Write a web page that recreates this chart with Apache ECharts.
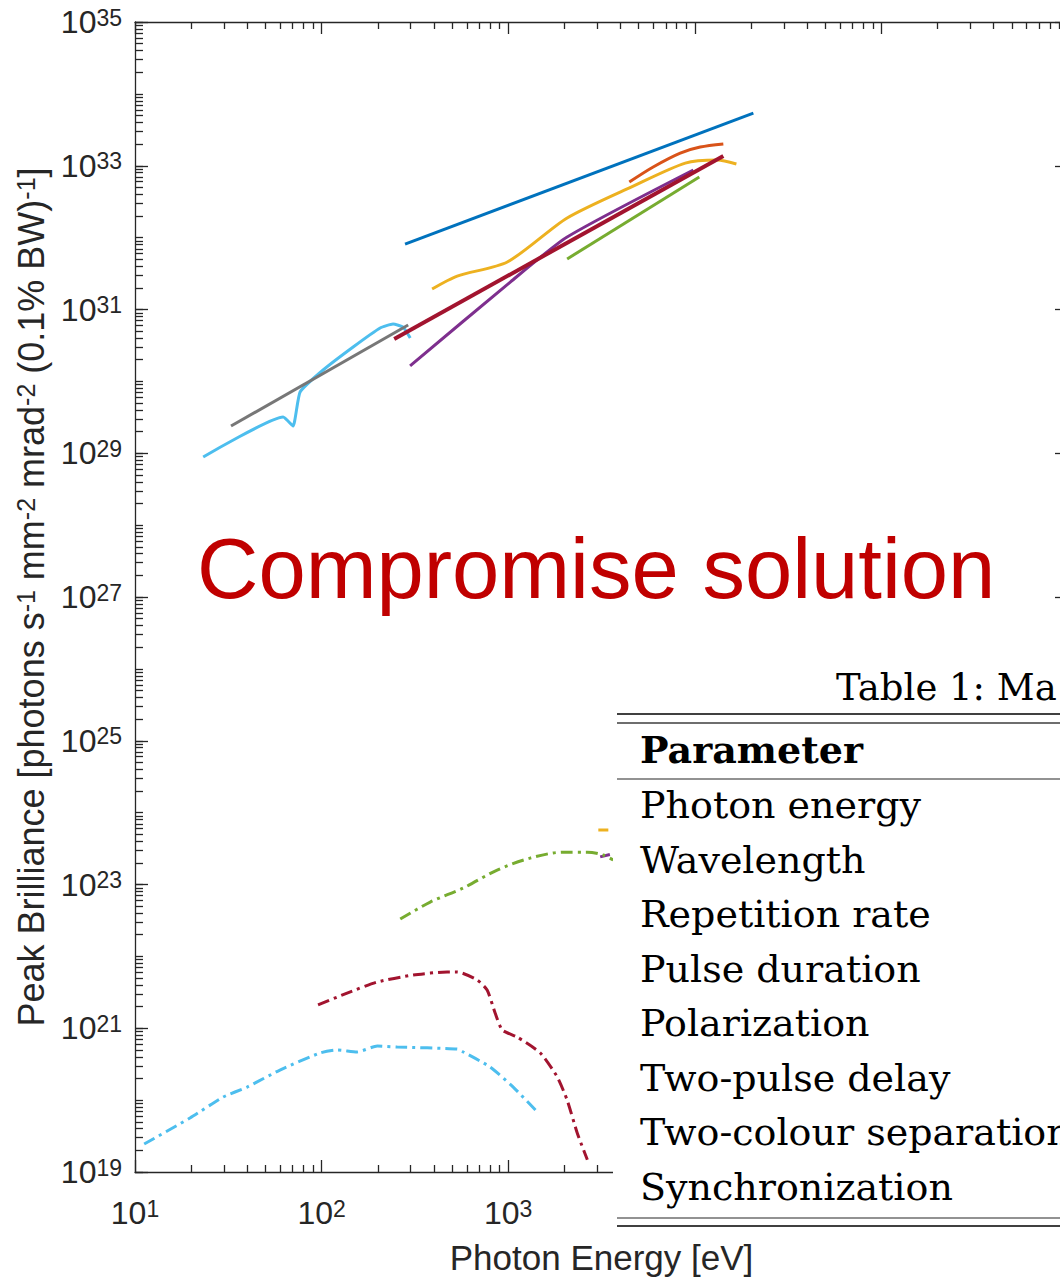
<!DOCTYPE html>
<html>
<head>
<meta charset="utf-8">
<script src="https://cdn.jsdelivr.net/npm/echarts@6/dist/echarts.min.js"></script>
<style>
  html, body { margin: 0; padding: 0; background: #fff; }
  #chart { width: 1060px; height: 1281px; }
</style>
</head>
<body>
<div id="chart"></div>
<script>
// photon energy [eV] and peak brilliance
const blueE = [280, 20600]
const blueB = [8.1e31, 5.4e33]
const orangeE = [4457, 5984, 8356, 10690, 14220]
const orangeB = [5.94e32, 9.62e32, 1.5e33, 1.82e33, 2.01e33]
const yellowE = [391, 533, 989, 2070, 4677, 8892, 13210, 16710]
const yellowB = [1.93e31, 2.92e31, 4.58e31, 1.88e32, 5.22e32, 1.09e33, 1.2e33, 1.06e33]
const purpleE = [298, 1026, 2070, 9817]
const purpleB = [1.64e30, 2.41e31, 1.02e32, 8.73e32]
const greenE = [2070, 10570]
const greenB = [5.05e31, 6.97e32]
const skyE = [23.2, 62.2, 70.3, 76.7, 101.9, 147.6, 206, 241.5, 273.5, 298.5]
const skyB = [8.87e28, 3.19e29, 2.39e29, 7.11e29, 1.44e30, 3.01e30, 5.53e30, 6.27e30, 5.69e30, 4.01e30]
const grayE = [32.7, 291]
const grayB = [2.39e29, 6.08e30]
const wineE = [245, 14220]
const wineB = [3.89e30, 1.37e33]

// dashed / dash-dot curves (lower part)
const orangeDashE = [3041, 3981]
const orangeDashB = [5.73e23, 5.73e23]
const purpleDashE = [3112, 3750]
const purpleDashB = [2.42e23, 2.74e23]
const greenDashE = [264, 382, 574, 873, 1312, 1972, 2655, 3228, 3656]
const greenDashB = [3.31e22, 5.7e22, 8.93e22, 1.59e23, 2.33e23, 2.82e23, 2.82e23, 2.57e23, 2.19e23]
const wineDashE = [95.7, 137, 199, 310, 471, 533, 682, 771, 851, 929, 1117, 1486, 1832, 2070, 2344, 2655]
const wineDashB = [2.11e21, 3.09e21, 4.4e21, 5.51e21, 6.07e21, 6.07e21, 4.69e21, 3.4e21, 1.63e21, 9.46e20, 7.55e20, 4.53e20, 2.1e20, 1.0e20, 3.49e19, 1.48e19]
const skyDashE = [11.2, 19.7, 29.6, 39.9, 59.8, 98.2, 121, 155, 199, 254, 533, 574, 800, 1064, 1449]
const skyDashB = [2.45e19, 5.64e19, 1.1e20, 1.52e20, 2.62e20, 4.53e20, 4.98e20, 4.68e20, 5.66e20, 5.48e20, 5.14e20, 4.68e20, 2.89e20, 1.52e20, 6.62e19]

const tableCaption = 'Table 1: Ma'
const tableHeader = 'Parameter'
const tableRows = [
  'Photon energy', 'Wavelength', 'Repetition rate', 'Pulse duration',
  'Polarization', 'Two-pulse delay', 'Two-colour separation', 'Synchronization',
]

const FONT = '"Liberation Sans", Arial, sans-serif'
const SERIF = '"DejaVu Serif", serif'
const TXT = '#262626'
const AX = '#262626'

const pts = (E, B) => E.map((e, i) => [e, B[i]])
const dashDot = [12, 5, 3, 5]

function line(E, B, color, width, type, smooth) {
  return {
    type: 'line',
    data: pts(E, B),
    showSymbol: false,
    symbol: 'none',
    silent: true,
    animation: false,
    smooth: smooth || false,
    lineStyle: { color, width, type: type || 'solid' },
  }
}

const tickRich = {
  b: { fontSize: 32, lineHeight: 32, padding: [9, 0, 0, 0], verticalAlign: 'bottom', fontFamily: FONT, color: TXT },
  e: { fontSize: 23, lineHeight: 23, verticalAlign: 'top', fontFamily: FONT, color: TXT },
}
const expLabel = (v) => {
  const e = Math.round(Math.log10(v))
  return '{b|10}{e|' + e + '}'
}

const axLine = { show: true, onZero: false, lineStyle: { color: AX, width: 1.3 } }
const tickStyle = { color: AX, width: 1.3 }

const chart = echarts.init(document.getElementById('chart'), null, { renderer: 'svg' })

// the plot box runs a little past the right edge of the page
const grid = { left: 135, top: 22, width: 933, height: 1150, outerBoundsMode: 'none', containLabel: false }

const txt = (text, x, y, font) => ({
  type: 'text', z: 101, x, y,
  style: { text, font, fill: '#000', align: 'left', verticalAlign: 'middle' },
})
const rule = (y, color, w) => ({
  type: 'line', z: 101, shape: { x1: 617, y1: y, x2: 1060, y2: y }, style: { stroke: color, lineWidth: w },
})

const tableGraphics = [
  { type: 'rect', z: 100, shape: { x: 613, y: 640, width: 460, height: 592 }, style: { fill: '#fff' } },
  txt(tableCaption, 836, 687, '37px ' + SERIF),
  rule(714, '#000', 1.3),
  rule(723, '#6e6e6e', 2),
  txt(tableHeader, 640, 749, 'bold 38px ' + SERIF),
  rule(779, '#6e6e6e', 1.5),
  ...tableRows.map((t, i) => txt(t, 640, 805 + i * 54.5, '38px ' + SERIF)),
  rule(1218, '#6e6e6e', 1.5),
  rule(1226, '#000', 1.3),
]

chart.setOption({
  animation: false,
  backgroundColor: '#fff',
  textStyle: { fontFamily: FONT },
  grid: [grid, grid],
  xAxis: [
    {
      gridIndex: 0, type: 'log', logBase: 10, min: 10, max: 1e6, interval: 1, position: 'bottom',
      axisLine: axLine,
      axisTick: { inside: true, length: 12, lineStyle: tickStyle },
      minorTick: { show: true, splitNumber: 9, length: 7, lineStyle: tickStyle },
      splitLine: { show: false },
      axisLabel: {
        margin: 25,
        formatter: (v) => (Math.round(Math.log10(v)) <= 3 ? expLabel(v) : ''),
        rich: tickRich,
      },
      name: 'Photon Energy [eV]',
      nameLocation: 'middle',
      nameGap: 68,
      nameTextStyle: { fontSize: 35, color: TXT, fontFamily: FONT },
    },
    {
      gridIndex: 0, type: 'log', logBase: 10, min: 10, max: 1e6, interval: 1, position: 'top',
      axisLine: axLine,
      axisTick: { inside: true, length: 12, lineStyle: tickStyle },
      minorTick: { show: true, splitNumber: 9, length: 7, lineStyle: tickStyle },
      splitLine: { show: false },
      axisLabel: { show: false },
    },
    { gridIndex: 1, type: 'log', logBase: 10, min: 10, max: 1e6, show: false },
  ],
  yAxis: [
    {
      gridIndex: 0, type: 'log', logBase: 10, min: 1e19, max: 1e35, interval: 2, position: 'left',
      axisLine: axLine,
      axisTick: { inside: true, length: 13, lineStyle: tickStyle },
      splitLine: { show: false },
      axisLabel: { margin: 13, formatter: expLabel, rich: tickRich },
      name: '{t|Peak Brilliance [photons s}{s|-1}{t| mm}{s|-2}{t| mrad}{s|-2}{t| (0.1% BW)}{s|-1}{t|]}',
      nameLocation: 'middle',
      nameGap: 84,
      nameTextStyle: {
        color: TXT,
        rich: {
          t: { fontSize: 36, lineHeight: 36, padding: [6, 0, 0, 0], verticalAlign: 'bottom', fontFamily: FONT, color: TXT },
          s: { fontSize: 25, lineHeight: 25, verticalAlign: 'top', fontFamily: FONT, color: TXT },
        },
      },
    },
    {
      gridIndex: 0, type: 'log', logBase: 10, min: 1e19, max: 1e35, interval: 2, position: 'right',
      axisLine: axLine,
      axisTick: { inside: true, length: 13, lineStyle: tickStyle },
      splitLine: { show: false },
      axisLabel: { show: false },
    },
    {
      gridIndex: 1, type: 'log', logBase: 10, min: 1e19, max: 1e35, interval: 1, position: 'left',
      axisLine: { show: false },
      axisTick: { inside: true, length: 8, lineStyle: tickStyle },
      minorTick: { show: true, splitNumber: 9, length: 8, lineStyle: tickStyle },
      splitLine: { show: false },
      axisLabel: { show: false },
    },
    {
      gridIndex: 1, type: 'log', logBase: 10, min: 1e19, max: 1e35, interval: 1, position: 'right',
      axisLine: { show: false },
      axisTick: { inside: true, length: 5, lineStyle: tickStyle },
      minorTick: { show: true, splitNumber: 9, length: 5, lineStyle: tickStyle },
      splitLine: { show: false },
      axisLabel: { show: false },
    },
  ],
  series: [
    line(blueE, blueB, '#0072BD', 3),
    line(orangeE, orangeB, '#D95319', 3, 'solid', 0.3),
    line(yellowE, yellowB, '#EDB120', 3, 'solid', 0.25),
    line(purpleE, purpleB, '#7E2F8E', 3, 'solid', 0.2),
    line(greenE, greenB, '#77AC30', 3),
    line(skyE, skyB, '#4DBEEE', 3, 'solid', 0.15),
    line(grayE, grayB, '#777777', 3),
    line(wineE, wineB, '#A2142F', 4),
    line(orangeDashE, orangeDashB, '#EDB120', 3, [10, 5]),
    line(purpleDashE, purpleDashB, '#7E2F8E', 3, [10, 5]),
    line(greenDashE, greenDashB, '#77AC30', 3, dashDot, 0.3),
    line(wineDashE, wineDashB, '#A2142F', 3, dashDot, 0.2),
    line(skyDashE, skyDashB, '#4DBEEE', 3, dashDot, 0.2),
  ],
  graphic: [
    {
      type: 'text', z: 100, x: 197, y: 568,
      style: { text: 'Compromise solution', font: '85px ' + FONT, fill: '#C00000', align: 'left', verticalAlign: 'middle' },
    },
    ...tableGraphics,
  ],
})
</script>
</body>
</html>
